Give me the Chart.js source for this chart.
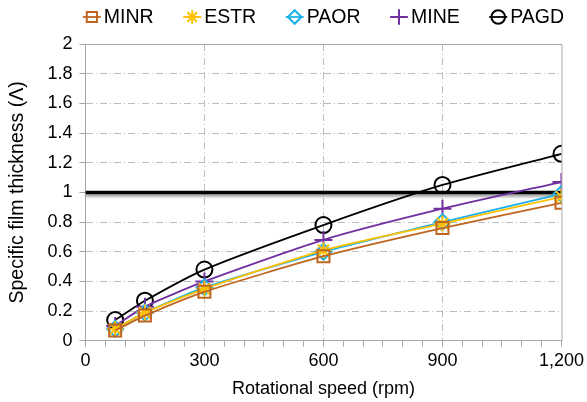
<!DOCTYPE html>
<html>
<head>
<meta charset="utf-8">
<script src="https://cdn.jsdelivr.net/npm/chart.js@4.4.1/dist/chart.umd.min.js"></script>
<style>
  html, body { margin: 0; padding: 0; background: #fff; }
  #wrap { width: 587px; height: 402px; position: relative; }
</style>
</head>
<body>
<div id="wrap"><canvas id="mycanvas"></canvas></div>
<script>
// rotational speed (rpm)
var speeds = [75, 150, 300, 600, 900, 1200];
// specific film thickness per lubricant
var minr = [0.07, 0.17, 0.33, 0.57, 0.76, 0.93];
var estr = [0.08, 0.19, 0.35, 0.61, 0.79, 0.97];
var paor = [0.08, 0.19, 0.36, 0.60, 0.80, 0.99];
var mine = [0.10, 0.23, 0.40, 0.68, 0.89, 1.07];
var pagd = [0.14, 0.27, 0.48, 0.78, 1.05, 1.26];
var limitX = [0, 1200];
var limitY = [1, 1];

var names = ['MINR', 'ESTR', 'PAOR', 'MINE', 'PAGD'];
var series = [minr, estr, paor, mine, pagd];
var colors = ['#c0651f', '#ffc000', '#1cb0ea', '#7030a0', '#000000'];
var styles = ['rect', 'star', 'rectRot', 'cross', 'circle'];
var radii = [8.5, 8, 8, 9, 8];

var gridGray = '#bdbdbd';
var axisGray = '#a6a6a6';
var font = "'Liberation Sans', Arial, sans-serif";

function pts(xs, ys) {
	var out = [];
	for (var i in xs) out.push({x: xs[i], y: ys[i]});
	return out;
}

var datasets = [];
for (var i = 0; i < names.length; i++) {
	datasets.push({
		label: names[i],
		data: pts(speeds, series[i]),
		borderColor: colors[i],
		backgroundColor: 'rgba(255,255,255,0)',
		pointBackgroundColor: 'rgba(255,255,255,0)',
		pointBorderColor: colors[i],
		pointStyle: styles[i],
		pointRadius: radii[i],
		pointBorderWidth: 2,
		borderWidth: 1.8,
		tension: 0.2,
		order: i
	});
}
datasets.push({
	label: 'limit',
	data: pts(limitX, limitY),
	borderColor: '#000',
	borderWidth: 3.5,
	pointRadius: 0,
	order: 10
});

// top + right frame, shadow under the limit line, and the legend
var extras = {
	id: 'extras',
	beforeDatasetsDraw: function(chart) {
		var a = chart.chartArea, ctx = chart.ctx;
		ctx.save();
		ctx.strokeStyle = axisGray;
		ctx.lineWidth = 1;
		ctx.beginPath();
		ctx.moveTo(a.left, a.top + 0.5);
		ctx.lineTo(a.right + 0.5, a.top + 0.5);
		ctx.lineTo(a.right + 0.5, a.bottom);
		ctx.stroke();
		ctx.restore();
	},
	beforeDatasetDraw: function(chart, args) {
		if (args.index === 5) {
			chart.ctx.save();
			chart.ctx.shadowColor = 'rgba(0,0,0,0.4)';
			chart.ctx.shadowOffsetY = 2.5;
			chart.ctx.shadowBlur = 3;
		}
	},
	afterDatasetDraw: function(chart, args) {
		if (args.index === 5) chart.ctx.restore();
	},
	afterDraw: function(chart) {
		var ctx = chart.ctx, a = chart.chartArea;
		ctx.save();
		ctx.font = '19.5px ' + font;
		ctx.textBaseline = 'middle';
		var iconW = 18, gap = 3, space = 29.5;
		var total = 0;
		for (var i = 0; i < names.length; i++) {
			total += iconW + gap + ctx.measureText(names[i]).width;
			if (i < names.length - 1) total += space;
		}
		var x = (a.left + a.right) / 2 - total / 2;
		var y = 17;
		for (var i = 0; i < names.length; i++) {
			ctx.strokeStyle = colors[i];
			ctx.lineWidth = 1.8;
			ctx.beginPath();
			ctx.moveTo(x, y);
			ctx.lineTo(x + iconW, y);
			ctx.stroke();
			ctx.lineWidth = 2;
			ctx.fillStyle = 'rgba(255,255,255,0)';
			Chart.helpers.drawPoint(ctx, {pointStyle: styles[i], radius: radii[i] * 0.85, rotation: 0, borderWidth: 2}, x + iconW / 2, y);
			ctx.fillStyle = '#000';
			ctx.fillText(names[i], x + iconW + gap, y + 1);
			x += iconW + gap + ctx.measureText(names[i]).width + space;
		}
		ctx.restore();
	}
};

var ctx = document.getElementById('mycanvas');
var chart = new Chart(ctx, {
	type: 'line',
	data: { datasets: datasets },
	options: {
		responsive: true,
		maintainAspectRatio: false,
		animation: false,
		layout: { padding: { top: 44, right: 0, left: 0, bottom: 2 } },
		plugins: {
			legend: { display: false },
			tooltip: { enabled: false }
		},
		scales: {
			x: {
				type: 'linear',
				min: 0,
				max: 1200,
				ticks: {
					stepSize: 50,
					autoSkip: false,
					maxRotation: 0,
					padding: 3,
					color: '#000',
					font: { family: font, size: 18 },
					callback: function(v) { return v % 300 === 0 ? v.toLocaleString('en-US') : ''; }
				},
				grid: {
					color: function(c) { return (c.tick && c.tick.value % 300 === 0 && c.tick.value > 0 && c.tick.value < 1200) ? gridGray : 'rgba(0,0,0,0)'; },
					tickColor: axisGray,
					tickLength: 6,
					lineWidth: 1
				},
				border: { color: axisGray, width: 1, dash: [7, 3, 1, 3] },
				title: {
					display: true,
					text: 'Rotational speed (rpm)',
					color: '#000',
					font: { family: font, size: 18 },
					padding: { top: 4, bottom: 0 }
				}
			},
			y: {
				min: 0,
				max: 2,
				ticks: {
					stepSize: 0.2,
					padding: 7,
					color: '#000',
					font: { family: font, size: 18 },
					callback: function(v) { return Math.round(v * 10) / 10 + ''; }
				},
				grid: {
					color: function(c) { return (c.tick && c.tick.value > 0.01 && c.tick.value < 1.99) ? gridGray : 'rgba(0,0,0,0)'; },
					tickColor: axisGray,
					tickLength: 6,
					lineWidth: 1
				},
				border: { color: axisGray, width: 1, dash: [7, 3, 1, 3] },
				title: {
					display: true,
					text: 'Specific film thickness (Λ)',
					color: '#000',
					font: { family: font, size: 19.5 },
					padding: { top: 6, bottom: 11 }
				}
			}
		}
	},
	plugins: [extras]
});
</script>
</body>
</html>
